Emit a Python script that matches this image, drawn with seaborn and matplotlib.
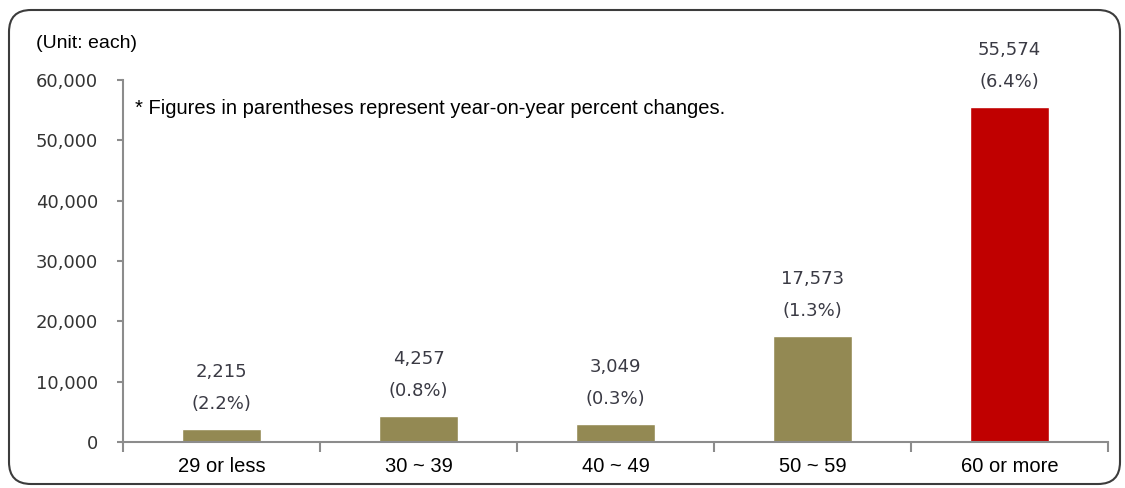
import numpy as np
import pandas as pd
import matplotlib
matplotlib.use('Agg')
import matplotlib.pyplot as plt
import seaborn as sns
from matplotlib.patches import FancyBboxPatch
from matplotlib.transforms import IdentityTransform

# chart data
age_groups = ['29 or less', '30 ~ 39', '40 ~ 49', '50 ~ 59', '60 or more']
counts = [2215, 4257, 3049, 17573, 55574]
pct_change = ['(2.2%)', '(0.8%)', '(0.3%)', '(1.3%)', '(6.4%)']
y_ticks = [0, 10000, 20000, 30000, 40000, 50000, 60000]

OLIVE = '#938953'
RED = '#C00000'
AXIS_GRAY = '#8c8c8c'

sns.set_style('white')
plt.rcParams['font.family'] = ['DejaVu Sans']

df = pd.DataFrame({'group': age_groups, 'count': counts})
bar_colors = {g: (RED if g == '60 or more' else OLIVE) for g in age_groups}

fig = plt.figure(figsize=(11.25, 4.88), dpi=100)
ax = fig.add_axes([123 / 1125, 1 - 442 / 488, 985 / 1125, 362 / 488])

sns.barplot(data=df, x='group', y='count', hue='group', palette=bar_colors,
            legend=False, width=0.4, saturation=1, ax=ax)

ax.set_xlim(-0.5, 4.5)
ax.set_ylim(0, 60000)
ax.set_yticks(y_ticks)
ax.set_yticklabels([f'{v:,}' for v in y_ticks], fontsize=13, color='#333333')
ax.set_xlabel('')
ax.set_ylabel('')

# x labels on majors (no tick mark), boundary marks as minors
ax.set_xticks(range(len(age_groups)))
ax.set_xticklabels(age_groups, family='Liberation Sans', fontsize=14.5, color='black')
ax.set_xticks(np.arange(-0.5, 5, 1), minor=True)
ax.tick_params(axis='x', which='major', length=0, pad=11)
ax.tick_params(axis='x', which='minor', length=7, width=1.5, color=AXIS_GRAY, direction='out')
ax.tick_params(axis='y', which='major', length=4, width=1.5, color=AXIS_GRAY, pad=14, direction='out')
ax.tick_params(left=True, bottom=True, which='both')

sns.despine(ax=ax)
for side in ['left', 'bottom']:
    ax.spines[side].set_color(AXIS_GRAY)
    ax.spines[side].set_linewidth(1.5)

# value + percent labels above bars
for i, (v, p) in enumerate(zip(counts, pct_change)):
    ax.annotate(p, (i, v), xytext=(0, 18), textcoords='offset points',
                ha='center', va='center', fontsize=13, color='#3a3a44')
    ax.annotate(f'{v:,}', (i, v), xytext=(0, 41), textcoords='offset points',
                ha='center', va='center', fontsize=13, color='#3a3a44')

fig.text(36 / 1125, 1 - 43 / 488, '(Unit: each)', family='Liberation Sans',
         fontsize=14, ha='left', va='center', color='black')
fig.text(135 / 1125, 1 - 108 / 488,
         '* Figures in parentheses represent year-on-year percent changes.',
         family='Liberation Sans', fontsize=14.5, ha='left', va='center', color='black')

# rounded frame around the whole chart (pixel coordinates, y from bottom)
frame = FancyBboxPatch((9, 4), 1111, 474,
                       boxstyle='round,pad=0,rounding_size=22',
                       transform=IdentityTransform(), fill=False,
                       edgecolor='#3c3c3c', linewidth=1.5)
fig.patches.append(frame)

fig.savefig('out.png', dpi=100)
